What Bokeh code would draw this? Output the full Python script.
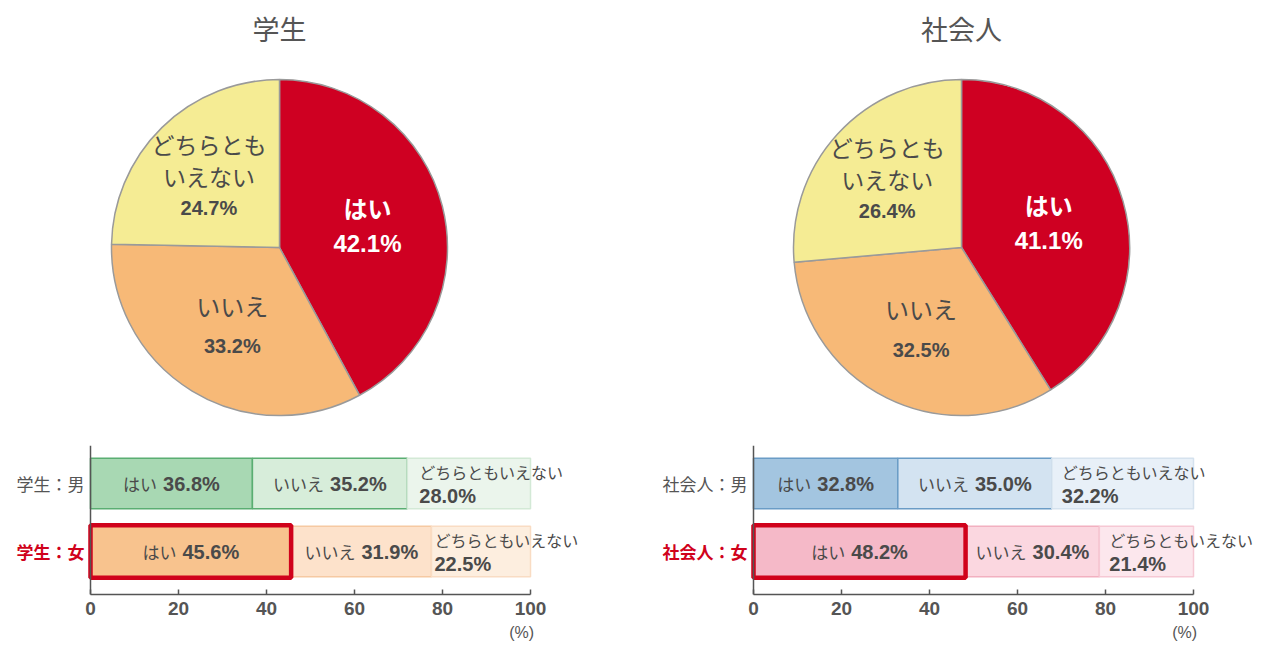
import math
from bokeh.plotting import figure
from bokeh.layouts import column, row
from bokeh.models import Range1d, Span, FixedTicker, ColumnDataSource, LinearAxis
from bokeh.core.properties import value
from bokeh.embed import file_html
from bokeh.resources import INLINE

# ---------------- data ----------------
categories = ["はい", "いいえ", "どちらともいえない"]
pie_titles = ["学生", "社会人"]
pie_student = [42.1, 33.2, 24.7]
pie_worker = [41.1, 32.5, 26.4]
groups_student = ["学生：男", "学生：女"]
groups_worker = ["社会人：男", "社会人：女"]
student_male = [36.8, 35.2, 28.0]
student_female = [45.6, 31.9, 22.5]
worker_male = [32.8, 35.0, 32.2]
worker_female = [48.2, 30.4, 21.4]
x_ticks = [0, 20, 40, 60, 80, 100]
unit_label = "(%)"

# ---------------- style ----------------
JP = value("Noto Sans CJK JP")
NUM = value("Liberation Sans")
GRAY = "#4a4a4a"
RED = "#d0021b"
pie_colors = ["#cf0022", "#f7b977", "#f5ec94"]

W = 1261
TOP_H = 438
PIE_R = 168
pie_centers = [(279, -247), (961, -247)]
label_r = [0.54, 0.54, 0.6]

top = figure(width=W, height=TOP_H, x_range=Range1d(0, W),
             y_range=Range1d(-TOP_H, 0), output_backend="svg",
             toolbar_location=None, x_axis_location=None, y_axis_location=None,
             min_border=0)
top.grid.visible = False
top.outline_line_color = None

for (cx, cy), title, vals in zip(pie_centers, pie_titles, [pie_student, pie_worker]):
    top.text(x=[cx], y=[cy + 219], text=[title], text_font=JP, text_font_size="27px",
             text_color="#555555", text_align="center", text_baseline="middle")
    cum = 0.0
    starts, ends = [], []
    for v in vals:
        starts.append(math.pi / 2 - 2 * math.pi * cum / 100.0)
        cum += v
        ends.append(math.pi / 2 - 2 * math.pi * cum / 100.0)
    src = ColumnDataSource(dict(start=starts, end=ends, color=pie_colors))
    top.wedge(x=cx, y=cy, radius=PIE_R, start_angle="start", end_angle="end",
              direction="clock", fill_color="color", line_color="#9a9a9a",
              line_width=1.5, source=src)
    for i, v in enumerate(vals):
        mid = (starts[i] + ends[i]) / 2
        lx = cx + label_r[i] * PIE_R * math.cos(mid)
        ly = cy + label_r[i] * PIE_R * math.sin(mid)
        pct = f"{v:.1f}%"
        if i == 0:
            lines = [(categories[0], JP, "24px", "bold", "white", 18),
                     (pct, NUM, "24px", "bold", "white", -18)]
        elif i == 1:
            lines = [(categories[1], JP, "24px", "normal", GRAY, 20),
                     (pct, NUM, "20px", "bold", GRAY, -21)]
        else:
            lines = [(categories[2][:5], JP, "23px", "normal", GRAY, 32),
                     (categories[2][5:], JP, "23px", "normal", GRAY, 0),
                     (pct, NUM, "20px", "bold", GRAY, -32)]
        for t, f, fs, st, col, dy in lines:
            top.text(x=[lx], y=[ly + dy], text=[t], text_font=f, text_font_size=fs,
                     text_font_style=st, text_color=col, text_align="center",
                     text_baseline="middle")

# ---------------- bars ----------------
SCALE = 4.4          # px per percent
ROW_PX = 68          # px per row unit
BOT_H = 206
BORDER_TOP = 7
BORDER_BOT = 50
FRAME_H = BOT_H - BORDER_TOP - BORDER_BOT
Y0 = -43 / ROW_PX


def width_cjk(s, fs):
    return len(s) * fs


def width_num(s, fs):
    w = 0
    for ch in s:
        w += {".": 0.278, "%": 0.889}.get(ch, 0.556) * fs
    return w


def bar_fig(groups, male, female, px_left, px_zero, fig_w, fills, borders, tail_pad):
    x_start = (px_left - px_zero) / SCALE
    x_end = (px_left + fig_w - px_zero) / SCALE
    p = figure(width=fig_w, height=BOT_H, x_range=Range1d(x_start, x_end),
               y_range=Range1d(Y0, Y0 + FRAME_H / ROW_PX), output_backend="svg",
               toolbar_location=None, y_axis_location=None,
               min_border_left=0, min_border_right=0,
               min_border_top=BORDER_TOP, min_border_bottom=BORDER_BOT)
    p.grid.visible = False
    p.outline_line_color = None
    ax = p.xaxis[0]
    ax.bounds = (0, 100)
    ax.ticker = FixedTicker(ticks=x_ticks)
    ax.minor_tick_line_color = None
    ax.major_tick_in = 5
    ax.major_tick_out = 0
    ax.axis_line_color = "#555555"
    ax.axis_line_width = 1.5
    ax.major_tick_line_color = "#555555"
    ax.major_tick_line_width = 1.5
    ax.major_label_text_font = "Liberation Sans"
    ax.major_label_text_font_style = "bold"
    ax.major_label_text_font_size = "19px"
    ax.major_label_text_color = "#555555"
    ax.major_label_standoff = 7
    # unit label "(%)" under the 100 tick, as a second bare axis
    ax2 = LinearAxis(ticker=FixedTicker(ticks=[98]), major_label_overrides={98: unit_label},
                     axis_line_color=None, major_tick_line_color=None,
                     minor_tick_line_color=None, major_label_standoff=0,
                     major_label_text_font_size="16px", major_label_text_color="#555555",
                     major_label_text_font="Liberation Sans")
    p.add_layout(ax2, "below")
    p.add_layout(Span(location=0, dimension="height", line_color="#555555", line_width=1.5))

    for r, (vals, fc, bc, pad) in enumerate(zip([female, male], fills[::-1], borders[::-1], tail_pad[::-1])):
        ypos = r  # female = 0, male = 1
        lefts, rights = [], []
        c = 0.0
        for v in vals:
            lefts.append(c)
            c += v
            rights.append(c)
        src = ColumnDataSource(dict(y=[ypos] * 3, left=lefts, right=rights, fill=fc, line=bc))
        p.hbar(y="y", left="left", right="right", height=0.74, fill_color="fill",
               line_color="line", line_width=1.5, source=src)
        for i in range(2):
            word = categories[i]
            num = f"{vals[i]:.1f}%"
            w1 = width_cjk(word, 17)
            w2 = width_num(num, 20)
            gap = 6
            tot = w1 + gap + w2
            cxv = (lefts[i] + rights[i]) / 2
            p.text(x=[cxv - tot / 2 / SCALE], y=[ypos], text=[word], text_font=JP,
                   text_font_size="17px", text_color=GRAY, text_align="left",
                   text_baseline="middle")
            p.text(x=[cxv + (-tot / 2 + w1 + gap) / SCALE], y=[ypos], text=[num],
                   text_font=NUM, text_font_size="20px", text_font_style="bold",
                   text_color=GRAY, text_align="left", text_baseline="middle")
        tx = lefts[2] + pad / SCALE
        p.text(x=[tx], y=[ypos + 12 / ROW_PX], text=[categories[2]], text_font=JP,
               text_font_size="16px", text_color=GRAY, text_align="left",
               text_baseline="middle")
        p.text(x=[tx], y=[ypos - 12 / ROW_PX], text=[f"{vals[2]:.1f}%"], text_font=NUM,
               text_font_size="20px", text_font_style="bold", text_color=GRAY,
               text_align="left", text_baseline="middle")
    # highlight box for women's "yes"
    p.hbar(y=[0], left=[0], right=[female[0]], height=0.77, fill_color=None,
           line_color=RED, line_width=4.5)
    # group labels
    p.text(x=[-6 / SCALE], y=[1], text=[groups[0]], text_font=JP, text_font_size="17px",
           text_color="#555555", text_align="right", text_baseline="middle")
    p.text(x=[-6 / SCALE], y=[0], text=[groups[1]], text_font=JP, text_font_size="17px",
           text_font_style="bold", text_color=RED, text_align="right", text_baseline="middle")
    return p


left_bar = bar_fig(groups_student, student_male, student_female, 0, 90, 640,
                   fills=[["#a8d8b3", "#d7edda", "#ebf5ec"], ["#f8c38e", "#fde2cb", "#fdeedf"]],
                   borders=[["#5aae72", "#5aae72", "#d3e9d6"], ["#f6c9a2", "#f6c9a2", "#f9dcc3"]],
                   tail_pad=[12, 3])
right_bar = bar_fig(groups_worker, worker_male, worker_female, 640, 753, 621,
                    fills=[["#a3c5e0", "#d3e3f1", "#e8f0f8"], ["#f5b9c8", "#fbd7e0", "#fce7ed"]],
                    borders=[["#6a9cc6", "#6a9cc6", "#d5e2ee"], ["#f2b0c0", "#f2b0c0", "#f6c8d4"]],
                    tail_pad=[10, 10])

layout = column(top, row(left_bar, right_bar))
open("out.html", "w").write(file_html(layout, INLINE))
